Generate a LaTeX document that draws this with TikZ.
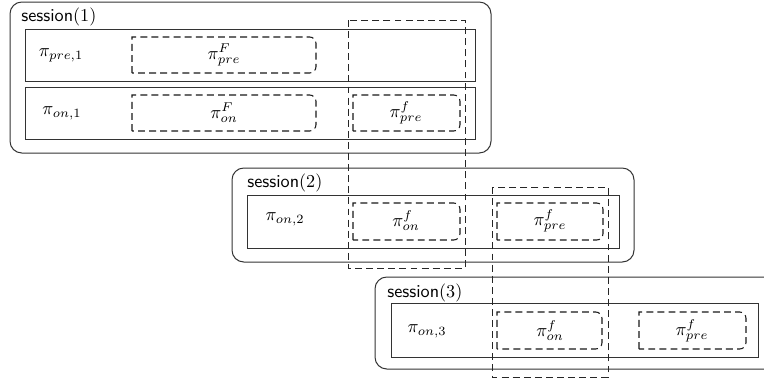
\documentclass[tikz,border=0pt]{standalone}
\usetikzlibrary{calc}
\tikzset{
  sessbox/.style={draw=black!80, line width=0.55pt, rounded corners=6.5pt},
  rowbox/.style={draw=black!80, line width=0.55pt},
  colbox/.style={draw=black!85, line width=0.5pt, dash pattern=on 3.8pt off 2.3pt},
  dbox/.style={draw=black!90, line width=0.6pt, dash pattern=on 3.8pt off 2.3pt},
  lbl/.style={inner sep=0pt, anchor=west},
  txt/.style={inner sep=0pt}
}
% dashed box with rounded right-hand corners: left, top, right, bottom
\newcommand\policybox[4]{%
  \draw[dbox] (#1,#4) -- (#1,#2) -- ([xshift=-3.5pt]#3,#2)
    arc[start angle=90, end angle=0, radius=3.5pt]
    -- ([yshift=3.5pt]#3,#4)
    arc[start angle=0, end angle=-90, radius=3.5pt] -- cycle;}
\begin{document}
\begin{tikzpicture}[x=0.55pt, y=-0.55pt]
\useasboundingbox (0,0) rectangle (764,381);
\clip (0,0) rectangle (764,381);

% ---- session 1
\draw[sessbox] (10,2) rectangle (491,153);
\node[lbl] (s1) at (21,17) {\textsf{session}$(1)$};
\draw[rowbox] (25,29) rectangle (475,81);
\draw[rowbox] (25,87) rectangle (475,139);
\node[txt] (p1pre) at (61,55) {$\pi_{pre,1}$};
\node[txt] (p1on) at (62,113) {$\pi_{on,1}$};
\policybox{132}{37}{316}{73}
\node[txt] (pFpre) at (224,55) {$\pi^F_{pre}$};
\policybox{132}{95}{316}{131}
\node[txt] (pFon) at (224,113) {$\pi^F_{on}$};
\policybox{353}{95}{460}{131}
\node[txt] (pfpre1) at (406,113) {$\pi^f_{pre}$};

% ---- session 2
\draw[sessbox] (232,168) rectangle (634,262);
\node[lbl] (s2) at (247,183) {\textsf{session}$(2)$};
\draw[rowbox] (247,195) rectangle (619,248);
\node[txt] (p2on) at (285,219) {$\pi_{on,2}$};
\policybox{353}{203}{460}{240}
\node[txt] (pfon2) at (406,221) {$\pi^f_{on}$};
\policybox{497}{203}{603}{240}
\node[txt] (pfpre2) at (550,221) {$\pi^f_{pre}$};

% ---- session 3 (runs off the right edge)
\draw[sessbox] (375,277) rectangle (800,369);
\node[lbl] (s3) at (387,293) {\textsf{session}$(3)$};
\draw[rowbox] (391,303) rectangle (758,357);
\node[txt] (p3on) at (427,331) {$\pi_{on,3}$};
\policybox{497}{312}{602}{349}
\node[txt] (pfon3) at (550,331) {$\pi^f_{on}$};
\policybox{639}{312}{746}{349}
\node[txt] (pfpre3) at (692,331) {$\pi^f_{pre}$};

% ---- dashed columns spanning consecutive sessions
\draw[colbox] (348,20) rectangle (465,268);
\draw[colbox] (492,187) rectangle (608,377);
\end{tikzpicture}
\end{document}
